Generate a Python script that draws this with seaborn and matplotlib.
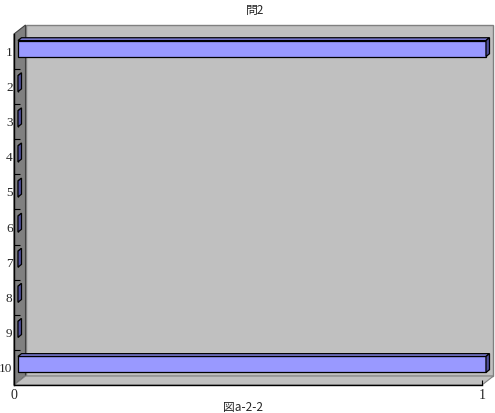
import matplotlib
matplotlib.use('Agg')
import matplotlib.pyplot as plt
import matplotlib.transforms as mtransforms
from matplotlib.patches import Polygon
import seaborn as sns
import pandas as pd

# ---- data ----
categories = [str(i) for i in range(1, 11)]
values = [1, 0, 0, 0, 0, 0, 0, 0, 0, 1]
x_ticks = [0, 1]
x_tick_labels = ["0", "1"]
title = "問2"
xlabel = "図a-2-2"

sns.set_style("white")
plt.rcParams['font.family'] = ['Noto Sans CJK JP', 'DejaVu Sans']

W, H, DPI = 495, 413, 100
fig = plt.figure(figsize=(W / DPI, H / DPI), dpi=DPI)
fig.patch.set_facecolor('white')
ax = fig.add_axes([14 / W, 28 / H, 468 / W, 351 / H])
ax.patch.set_facecolor('none')

df = pd.DataFrame({"cat": categories, "val": values})
sns.barplot(data=df, x="val", y="cat", orient="h", color="#9999ff",
            width=0.456, edgecolor="black", linewidth=0.9, saturation=1,
            ax=ax, zorder=3)
ax.set_xlim(0, 1)
ax.set_ylim(9.5, -0.5)

# ---- 3D walls (decoration) ----
D = (11.5, 9.0)      # depth of the plot box, px
BD = (3.5, 2.8)      # depth of bars, px
BO = (4.0, 3.0)      # front offset of bars, px


def fpt(px, py):
    return (px / W, py / H)


def ax_pt(x, y, dx=0.0, dy=0.0):
    p = ax.transAxes.transform((x, y))
    return fpt(p[0] + dx, p[1] + dy)


back = Polygon([ax_pt(0, 0, *D), ax_pt(1, 0, *D), ax_pt(1, 1, *D), ax_pt(0, 1, *D)],
               closed=True, transform=fig.transFigure, facecolor="#c0c0c0",
               edgecolor="#808080", linewidth=1.0, zorder=-3)
left = Polygon([ax_pt(0, 0), ax_pt(0, 1), ax_pt(0, 1, *D), ax_pt(0, 0, *D)],
               closed=True, transform=fig.transFigure, facecolor="#808080",
               edgecolor="#404040", linewidth=0.8, zorder=-2)
floor = Polygon([ax_pt(0, 0), ax_pt(1, 0), ax_pt(1, 0, *D), ax_pt(0, 0, *D)],
                closed=True, transform=fig.transFigure, facecolor="#c0c0c0",
                edgecolor="#808080", linewidth=0.8, zorder=-2)
for p in (back, left, floor):
    fig.add_artist(p)

# ---- bars: shift front faces and add top / side faces ----
off = ax.transData + mtransforms.ScaledTranslation(BO[0] / DPI, BO[1] / DPI,
                                                   fig.dpi_scale_trans)
for rect in list(ax.patches):
    x0, y0 = rect.get_x(), rect.get_y()
    w, h = rect.get_width(), rect.get_height()
    rect.set_transform(off)
    a = ax.transData.transform((x0, y0))
    b = ax.transData.transform((x0 + w, y0 + h))
    L, R = min(a[0], b[0]) + BO[0], max(a[0], b[0]) + BO[0]
    B, T = min(a[1], b[1]) + BO[1], max(a[1], b[1]) + BO[1]
    top = Polygon([fpt(L, T), fpt(R, T), fpt(R + BD[0], T + BD[1]), fpt(L + BD[0], T + BD[1])],
                  closed=True, transform=fig.transFigure, facecolor="#7f7fdd",
                  edgecolor="black", linewidth=0.9, zorder=4)
    side = Polygon([fpt(R, B), fpt(R, T), fpt(R + BD[0], T + BD[1]), fpt(R + BD[0], B + BD[1])],
                   closed=True, transform=fig.transFigure, facecolor="#4f4f9a",
                   edgecolor="black", linewidth=0.9, zorder=4)
    ax.add_artist(top)
    ax.add_artist(side)
    top.set_clip_on(False)
    side.set_clip_on(False)
    rect.set_clip_on(False)

# ---- axes styling ----
for s in ("top", "right"):
    ax.spines[s].set_visible(False)
for s in ("left", "bottom"):
    ax.spines[s].set_color("black")
    ax.spines[s].set_linewidth(1.0)

serif = ['Liberation Serif', 'DejaVu Serif']
ax.set_yticks(range(len(categories)))
ax.set_yticklabels(categories, fontfamily=serif, fontsize=9.5)
ax.set_yticks([i + 0.5 for i in range(len(categories) - 1)], minor=True)
ax.tick_params(axis="y", which="major", length=0, pad=1.0)
ax.tick_params(axis="y", which="minor", direction="in", length=4.3,
               width=0.8, color="black", left=True)
ax.set_xticks(x_ticks)
ax.set_xticklabels(x_tick_labels, fontfamily=serif, fontsize=10)
ax.tick_params(axis="x", which="major", direction="in", length=3.6,
               width=0.8, color="black", pad=3, bottom=True)

ax.set_ylabel("")
ax.set_xlabel(xlabel, fontsize=8.5)
ax.xaxis.set_label_coords((243 - 14) / 468, (6 - 28) / 351)
ax.xaxis.label.set_va("center")
ax.set_title(title, x=(255 - 14) / 468, y=(403 - 28) / 351, va="center",
             fontsize=8.5, pad=0)

fig.savefig("out.png", dpi=DPI)
